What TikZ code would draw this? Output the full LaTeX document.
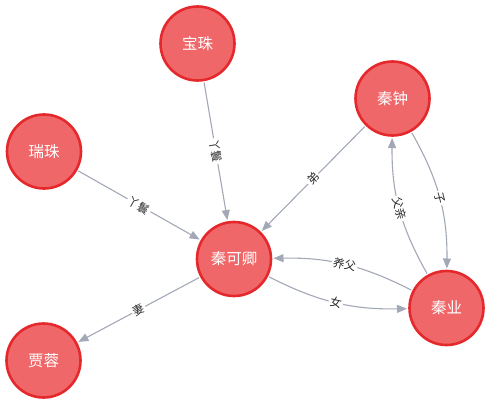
\documentclass[tikz,border=0pt]{standalone}
\usepackage{fontspec}
\setmainfont{Noto Sans CJK SC}
\usetikzlibrary{arrows.meta}
\definecolor{nodefill}{HTML}{EF6769}
\definecolor{nodeline}{HTML}{E5282C}
\definecolor{edgegrey}{HTML}{A2A8B5}
\definecolor{tagtext}{HTML}{2A2A2A}
\begin{document}
\begin{tikzpicture}[x=1pt,y=1pt,
  person/.style={circle, draw=nodeline, fill=nodefill, line width=2.6pt,
    minimum size=74pt, inner sep=0pt, text=white,
    font=\fontsize{15.5}{15.5}\selectfont},
  rel/.style={draw=edgegrey, line width=1.1pt, shorten >=1.2pt, shorten <=1.2pt,
    -{Triangle[length=10pt,width=8pt]}},
  tag/.style={fill=white, inner sep=1.5pt, sloped, text=tagtext,
    font=\fontsize{11.5}{11.5}\selectfont}]
\useasboundingbox (0,0) rectangle (490,-404);

% characters
\node[person] (baozhu)   at (197.5,-43.5)  {宝珠};
\node[person] (qinzhong) at (392.5,-98.5)  {秦钟};
\node[person] (ruizhu)   at (44,-151.5)    {瑞珠};
\node[person] (keqing)   at (234,-259)     {秦可卿};
\node[person] (qinye)    at (446.5,-308)   {秦业};
\node[person] (jiarong)  at (43.5,-360.5)  {贾蓉};

% relations
\draw[rel] (baozhu) -- node[tag] {丫鬟} (keqing);
\draw[rel] (ruizhu) -- node[tag] {丫鬟} (keqing);
\draw[rel] (qinzhong) -- node[tag] {弟} (keqing);
\draw[rel] (keqing) -- node[tag] {妻} (jiarong);
\draw[rel] (qinzhong) to[bend left=15] node[tag] {子} (qinye);
\draw[rel] (qinye) to[bend left=15] node[tag] {父亲} (qinzhong);
\draw[rel] (qinye) to[bend right=14] node[tag] {养父} (keqing);
\draw[rel] (keqing) to[bend right=14] node[tag] {女} (qinye);
\end{tikzpicture}
\end{document}
